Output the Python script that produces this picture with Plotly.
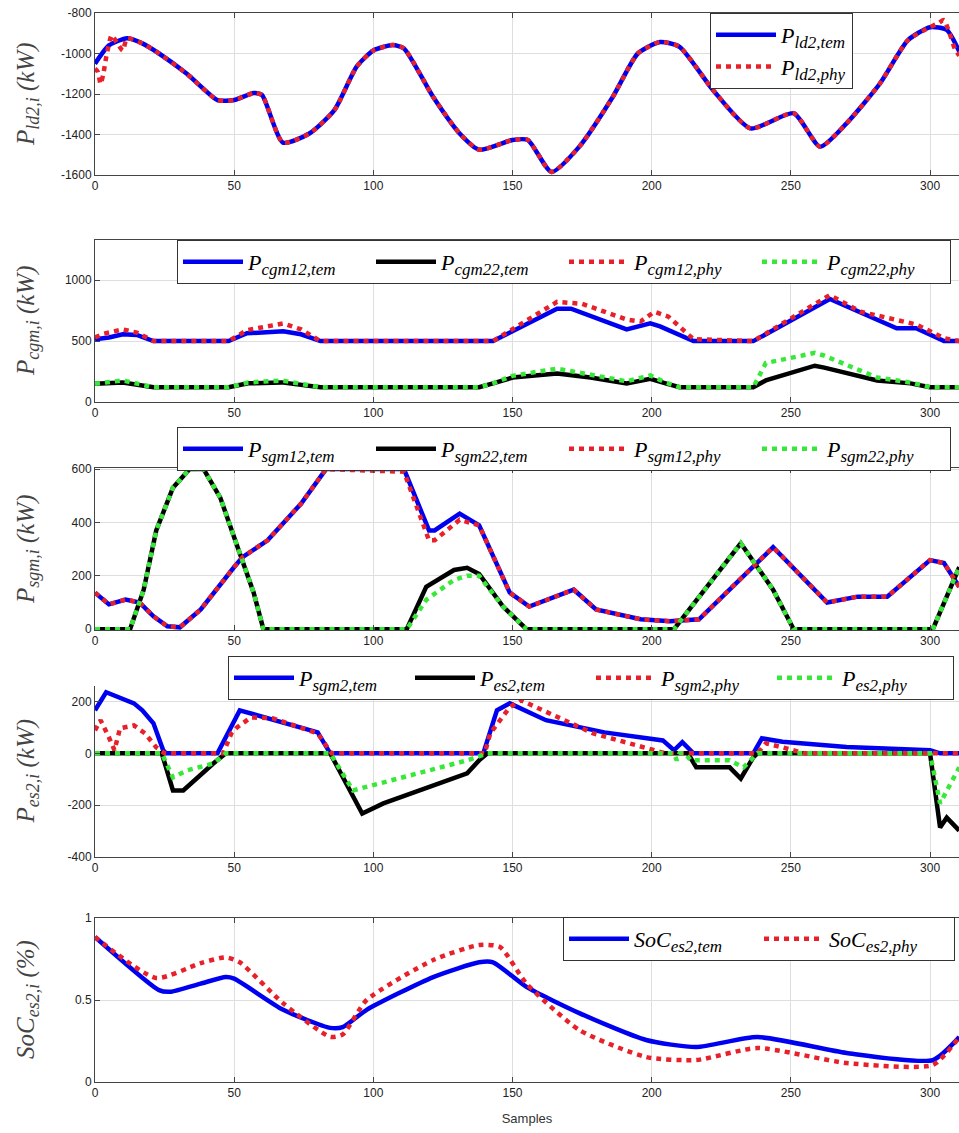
import plotly.graph_objects as go
from plotly.subplots import make_subplots

# ---------------- data ----------------
# Panel 1: P_ld2
ld2_x = [0, 5, 11.5, 17, 23, 33, 44, 50, 57, 60, 67.5, 77, 86, 94, 100, 107, 111, 121.5, 131, 138,
         150, 155.5, 164, 174, 186, 195, 203, 210, 222, 235.5, 251, 260.5, 270, 282, 292, 300, 306, 310.5]
ld2_tem = [-1050, -960, -925, -950, -1000, -1100, -1230, -1230, -1195, -1205, -1440, -1395, -1280, -1065,
           -985, -958, -975, -1215, -1395, -1475, -1427, -1427, -1585, -1460, -1215, -1000, -943, -967,
           -1180, -1370, -1295, -1460, -1345, -1148, -935, -870, -883, -990]
ld2_phy_x = [0, 1, 2, 3, 4, 6, 8, 10, 11.5, 17, 23, 33, 44, 50, 57, 60, 67.5, 77, 86, 94, 100, 107, 111,
             121.5, 131, 138, 150, 155.5, 164, 174, 186, 195, 203, 210, 222, 235.5, 251, 260.5, 270, 282,
             292, 300, 303, 305, 307, 309, 310.5]
ld2_phy = [-1075, -1090, -1150, -1100, -1020, -910, -950, -985, -925, -950, -1000, -1100, -1230, -1230,
           -1195, -1205, -1440, -1395, -1280, -1065, -985, -958, -975, -1215, -1395, -1475, -1427, -1427,
           -1585, -1460, -1215, -1000, -943, -967, -1180, -1370, -1295, -1460, -1345, -1148, -935, -870,
           -850, -835, -900, -980, -1010]

# Panel 2: P_cgm
cgm12_x = [0, 5, 10, 15, 21, 48, 54.6, 67.6, 74, 81, 143, 166, 171, 191, 199.5, 203, 215, 236.5, 264,
           288, 295, 305, 310.5]
cgm12_tem = [516, 530, 556, 550, 500, 500, 564, 580, 556, 500, 500, 766, 766, 596, 645, 621, 500, 500,
             846, 605, 605, 500, 500]
cgm12_phy_x = [0, 3, 10, 15, 21, 48, 54.6, 60, 67.6, 74, 81, 143, 166, 175, 185, 191, 196, 201, 206, 215,
               236.5, 264, 275, 285, 295, 305, 310.5]
cgm12_phy = [530, 560, 596, 570, 500, 500, 590, 610, 645, 596, 500, 500, 822, 806, 725, 677, 661, 741,
             701, 516, 500, 878, 741, 685, 637, 524, 500]
cgm22_x = [0, 10, 21, 48, 55, 67, 81, 138, 143, 150, 166, 178, 191, 199.5, 205, 210, 236.5, 241, 258.6,
           262, 281, 293, 300, 310.5]
cgm22_tem = [150, 160, 121, 121, 153, 161, 121, 121, 153, 201, 234, 201, 153, 190, 153, 121, 121, 177,
             298, 282, 177, 153, 121, 121]
cgm22_phy = [150, 177, 121, 121, 160, 177, 121, 121, 153, 215, 274, 225, 170, 218, 160, 121, 121, 320,
             403, 380, 201, 160, 121, 121]

# Panel 3: P_sgm
sgm12_x = [0, 5, 11, 16, 21, 26, 30.5, 38, 50, 53, 62, 74, 83, 111, 120, 122, 131, 138, 149, 156, 172,
           180, 196, 206.6, 217, 243.6, 263, 274, 284.6, 300, 305, 310.5]
sgm12_tem = [137, 93, 111, 100, 48, 11, 7, 74, 233, 270, 333, 470, 600, 600, 370, 370, 433, 389, 137, 85,
             148, 74, 37, 30, 37, 307, 100, 122, 122, 259, 248, 159]
sgm12_phy = [137, 93, 111, 100, 48, 11, 7, 74, 233, 270, 333, 470, 600, 590, 333, 333, 410, 389, 137, 85,
             148, 74, 37, 30, 37, 307, 100, 122, 122, 259, 248, 159]
sgm22_x = [0, 12.6, 17.5, 22, 28, 34, 39, 45, 52, 57, 60.5, 112, 119, 129, 133.7, 138, 146.6, 155, 208,
           232, 243.6, 251, 301, 306, 310.5]
sgm22_tem = [0, 0, 148, 370, 530, 600, 600, 493, 285, 137, 0, 0, 159, 222, 230, 207, 85, 0, 0, 322, 148,
             0, 0, 122, 233]
sgm22_phy = [0, 0, 148, 370, 530, 600, 600, 493, 285, 137, 0, 0, 110, 185, 200, 200, 85, 0, 0, 322, 148,
             0, 0, 122, 233]

# Panel 4: P_sgm2 / P_es2
sgm2_x = [0, 4, 14, 17, 21, 24.5, 25.5, 44, 52, 80, 84.5, 139.5, 144.4, 149, 162, 183, 204, 208, 211,
          215, 236.5, 239.6, 247, 270, 300, 303.6, 310.5]
sgm2_tem = [166, 236, 193, 166, 116, 12, 0, 0, 166, 81, 0, 0, 166, 193, 128, 81, 50, 12, 43, 0, 0, 58,
            45, 25, 12, 0, 0]
sgm2_phy_x = [0, 2, 5, 7, 9, 14, 18, 22, 25, 46, 49, 51, 56, 64, 80, 85, 140, 142, 149, 153, 179, 198,
              205, 238, 241, 247, 255, 310.5]
sgm2_phy = [89, 128, 62, 12, 97, 108, 77, 23, 0, 0, 77, 100, 139, 135, 77, 0, 0, 77, 178, 205, 77, 19,
            0, 0, 39, 23, 0, 0]
es2_x = [0, 24, 28, 31.7, 42.5, 47, 84.5, 96, 103.6, 133.7, 138, 141, 213, 216, 228, 232, 236.5, 238,
         300, 303.6, 306, 310.5]
es2_tem = [0, 0, -143, -143, -39, 0, 0, -232, -193, -77, -27, 0, 0, -54, -54, -97, -15, 0, 0, -286,
           -248, -298]
es2_phy_x = [0, 24, 28, 33, 42.5, 47, 84.5, 92.7, 133.7, 141, 208, 209, 210, 212, 214, 228, 233, 236.5,
             238, 300, 303.6, 310.5]
es2_phy = [0, 0, -93, -66, -39, 0, 0, -143, -27, 0, 0, -27, 0, 0, -27, -27, -54, -15, 0, 0, -193, -54]

# Panel 5: SoC_es2
soc_x = [0, 23, 27, 38, 47, 50, 67.6, 84.5, 89, 97.6, 121.5, 138, 143, 155, 174, 198, 216, 238, 270,
         301, 310.5]
soc_tem = [0.884, 0.56, 0.55, 0.60, 0.64, 0.63, 0.44, 0.33, 0.335, 0.44, 0.64, 0.73, 0.73, 0.58, 0.42,
           0.256, 0.213, 0.274, 0.177, 0.134, 0.274]
soc_phy_x = [0, 22, 38, 47, 52, 67.6, 84.5, 89, 97.6, 121.5, 138, 145.5, 155, 174, 198, 216, 238, 270,
             301, 310.5]
soc_phy = [0.884, 0.634, 0.725, 0.76, 0.73, 0.48, 0.275, 0.29, 0.5, 0.744, 0.835, 0.823, 0.6, 0.317,
           0.152, 0.134, 0.207, 0.116, 0.104, 0.274]

y_titles = [("P", "ld2,i", "kW"), ("P", "cgm,i", "kW"), ("P", "sgm,i", "kW"),
            ("P", "es2,i", "kW"), ("SoC", "es2,i", "%")]
y_ranges = [[-1600, -800], [0, 1330], [-3, 604], [-400, 260], [0, 1]]
y_ticks = [[-1600, -1400, -1200, -1000, -800], [0, 500, 1000], [0, 200, 400, 600],
           [-400, -200, 0, 200], [0, 0.5, 1]]
y_ticktext = [["-1600", "-1400", "-1200", "-1000", "-800"], ["0", "500", "1000"],
              ["0", "200", "400", "600"], ["-400", "-200", "0", "200"], ["0", "0.5", "1"]]
x_ticks = [0, 50, 100, 150, 200, 250, 300]

# ---------------- figure ----------------
W, H = 959, 1133
L = 95
BLUE, RED, BLACK, GREEN = "#0000f0", "#e8202a", "#000000", "#38e838"
LW = 4.5
DOT = "5px,5px"

# panel pixel extents (top, bottom)
panels = [(13, 175), (240, 402), (468, 630), (686, 857), (918, 1082)]

fig = make_subplots(rows=5, cols=1)


def lab(base, sub):
    return "<i>%s</i><sub><span style='font-size:17px'><i>%s</i></span></sub>" % (base, sub)


def add(row, x, y, name, color, dash, legend, spline=False):
    fig.add_trace(go.Scatter(
        x=x, y=y, mode="lines", name=name, legend=legend,
        line=dict(color=color, width=LW, dash=dash,
                  shape="spline" if spline else "linear", smoothing=0.6)),
        row=row, col=1)


add(1, ld2_x, ld2_tem, lab("P", "ld2,tem"), BLUE, "solid", "legend", True)
add(1, ld2_phy_x, ld2_phy, lab("P", "ld2,phy"), RED, DOT, "legend", True)

add(2, cgm12_x, cgm12_tem, lab("P", "cgm12,tem"), BLUE, "solid", "legend2")
add(2, cgm22_x, cgm22_tem, lab("P", "cgm22,tem"), BLACK, "solid", "legend2")
add(2, cgm12_phy_x, cgm12_phy, lab("P", "cgm12,phy"), RED, DOT, "legend2")
add(2, cgm22_x, cgm22_phy, lab("P", "cgm22,phy"), GREEN, DOT, "legend2")

add(3, sgm12_x, sgm12_tem, lab("P", "sgm12,tem"), BLUE, "solid", "legend3")
add(3, sgm22_x, sgm22_tem, lab("P", "sgm22,tem"), BLACK, "solid", "legend3")
add(3, sgm12_x, sgm12_phy, lab("P", "sgm12,phy"), RED, DOT, "legend3")
add(3, sgm22_x, sgm22_phy, lab("P", "sgm22,phy"), GREEN, DOT, "legend3")

add(4, sgm2_x, sgm2_tem, lab("P", "sgm2,tem"), BLUE, "solid", "legend4")
add(4, es2_x, es2_tem, lab("P", "es2,tem"), BLACK, "solid", "legend4")
add(4, sgm2_phy_x, sgm2_phy, lab("P", "sgm2,phy"), RED, DOT, "legend4")
add(4, es2_phy_x, es2_phy, lab("P", "es2,phy"), GREEN, DOT, "legend4")

add(5, soc_x, soc_tem, lab("SoC", "es2,tem"), BLUE, "solid", "legend5", True)
add(5, soc_phy_x, soc_phy, lab("SoC", "es2,phy"), RED, DOT, "legend5", True)

PW = W - L
tickfont = dict(family="Liberation Sans", size=12, color="#222222")
axcol = "#444444"
gridcol = "#dedede"

for i in range(5):
    top, bot = panels[i]
    n = "" if i == 0 else str(i + 1)
    fig.layout["yaxis" + n].update(
        domain=[1 - bot / H, 1 - top / H], range=y_ranges[i],
        tickmode="array", tickvals=y_ticks[i], ticktext=y_ticktext[i],
        ticks="inside", ticklen=5, tickcolor=axcol, showline=True, linecolor=axcol,
        linewidth=1, showgrid=True, gridcolor=gridcol, zeroline=False, tickfont=tickfont,
        automargin=False)
    fig.layout["xaxis" + n].update(
        domain=[0, 1], range=[0, 310.4], tickmode="array", tickvals=x_ticks,
        ticks="inside", ticklen=5, tickcolor=axcol, showline=True, linecolor=axcol,
        linewidth=1, mirror=("ticks" if i != 3 else False), showgrid=True, gridcolor=gridcol,
        zeroline=False, tickfont=tickfont, automargin=False)
    b, s, u = y_titles[i]
    fig.add_annotation(
        text="<i>%s</i><sub><span style='font-size:18px'><i>%s</i></span></sub><i> (%s)</i>" % (b, s, u),
        textangle=-90, xref="paper", yref="paper",
        x=(27 - L) / PW, y=1 - (top + bot) / 2 / H, xanchor="center", yanchor="middle",
        showarrow=False, font=dict(family="Liberation Serif", size=25, color="#444444"))

fig.layout.xaxis5.update(title=dict(text="Samples", standoff=14,
                                    font=dict(family="Liberation Sans", size=13, color="#333333")))

legfont = dict(family="Liberation Serif", size=22, color="#000000")
common = dict(bgcolor="white", bordercolor="#333333", borderwidth=1, font=legfont,
              xanchor="left", yanchor="top", itemwidth=60, xref="paper", yref="paper")

fig.update_layout(
    width=W, height=H, margin=dict(l=L, r=0, t=0, b=0, autoexpand=False),
    paper_bgcolor="white", plot_bgcolor="white", showlegend=True,
    legend=dict(x=(710 - L) / PW, y=1 - 13 / H, orientation="v", tracegroupgap=0, **common),
    legend2=dict(x=(177 - L) / PW, y=1 - 240 / H, orientation="h", entrywidth=118, **common),
    legend3=dict(x=(177 - L) / PW, y=1 - 427 / H, orientation="h", entrywidth=118, **common),
    legend4=dict(x=(228 - L) / PW, y=1 - 656 / H, orientation="h", entrywidth=106, **common),
    legend5=dict(x=(563 - L) / PW, y=1 - 917 / H, orientation="h", entrywidth=120, **common),
)

fig.write_html("out.html")
